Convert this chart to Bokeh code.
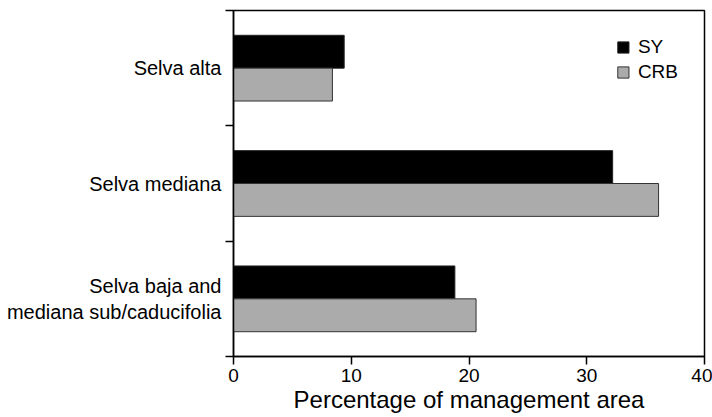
from bokeh.plotting import figure
from bokeh.models import FixedTicker, Range1d, Legend, LegendItem, ColumnDataSource
from bokeh.embed import file_html
from bokeh.resources import INLINE

# ---- data ----
categories = ["Selva alta", "Selva mediana", "Selva baja and\nmediana sub/caducifolia"]
sy = [9.4, 32.2, 18.8]
crb = [8.4, 36.1, 20.6]
series_names = ["SY", "CRB"]
x_ticks = [0, 10, 20, 30, 40]
x_label = "Percentage of management area"

FONT = "Liberation Sans"
n = len(categories)
centers = [n - i - 0.5 for i in range(n)]
bar_h = 0.285
off = bar_h / 2

src = ColumnDataSource(dict(
    y_sy=[c + off for c in centers],
    y_crb=[c - off for c in centers],
    sy=sy, crb=crb,
))

p = figure(width=712, height=417, output_backend="svg", toolbar_location=None,
           x_range=Range1d(x_ticks[0], x_ticks[-1]), y_range=Range1d(0, n),
           min_border_left=233, min_border_right=8, min_border_top=10,
           min_border_bottom=61)
p.background_fill_color = "white"
p.border_fill_color = "white"
p.outline_line_color = "black"
p.outline_line_width = 1.5
p.grid.visible = False

r1 = p.hbar(y="y_sy", right="sy", left=0, height=bar_h, source=src,
            fill_color="black", line_color="#222222", line_width=1)
r2 = p.hbar(y="y_crb", right="crb", left=0, height=bar_h, source=src,
            fill_color="#ababab", line_color="#333333", line_width=1)

# x axis
xa = p.xaxis[0]
xa.ticker = FixedTicker(ticks=x_ticks)
xa.major_tick_out = 8
xa.major_tick_in = 0
xa.minor_tick_out = 0
xa.minor_tick_in = 0
xa.axis_line_width = 1.5
xa.major_tick_line_width = 1.5
xa.major_label_text_font = FONT
xa.major_label_text_font_size = "19px"
xa.major_label_text_color = "black"
xa.major_label_standoff = 4
xa.axis_label = x_label
xa.axis_label_text_font = FONT
xa.axis_label_text_font_size = "24px"
xa.axis_label_text_font_style = "normal"
xa.axis_label_text_color = "black"
xa.axis_label_standoff = 1

# y axis: labels at band centers, tick marks at band boundaries
ya = p.yaxis[0]
ya.ticker = FixedTicker(ticks=centers, minor_ticks=list(range(n + 1)))
ya.major_label_overrides = {c: lab for c, lab in zip(centers, categories)}
ya.major_tick_line_color = None
ya.major_tick_out = 0
ya.major_tick_in = 0
ya.minor_tick_out = 8
ya.minor_tick_in = 0
ya.minor_tick_line_color = "black"
ya.minor_tick_line_width = 1.5
ya.axis_line_width = 1.5
ya.major_label_text_font = FONT
ya.major_label_text_font_size = "20px"
ya.major_label_text_color = "black"
ya.major_label_standoff = 4
ya.major_label_text_align = "right"

legend = Legend(items=[LegendItem(label=series_names[0], renderers=[r1]),
                       LegendItem(label=series_names[1], renderers=[r2])],
                location="top_right")
legend.margin = 26
legend.padding = 0
legend.glyph_width = 14
legend.glyph_height = 14
legend.label_standoff = 8
legend.label_height = 20
legend.spacing = 3
legend.label_text_font = FONT
legend.label_text_font_size = "19px"
legend.label_text_color = "black"
legend.border_line_color = None
legend.background_fill_alpha = 0
p.add_layout(legend)

open("out.html", "w").write(file_html(p, INLINE))
